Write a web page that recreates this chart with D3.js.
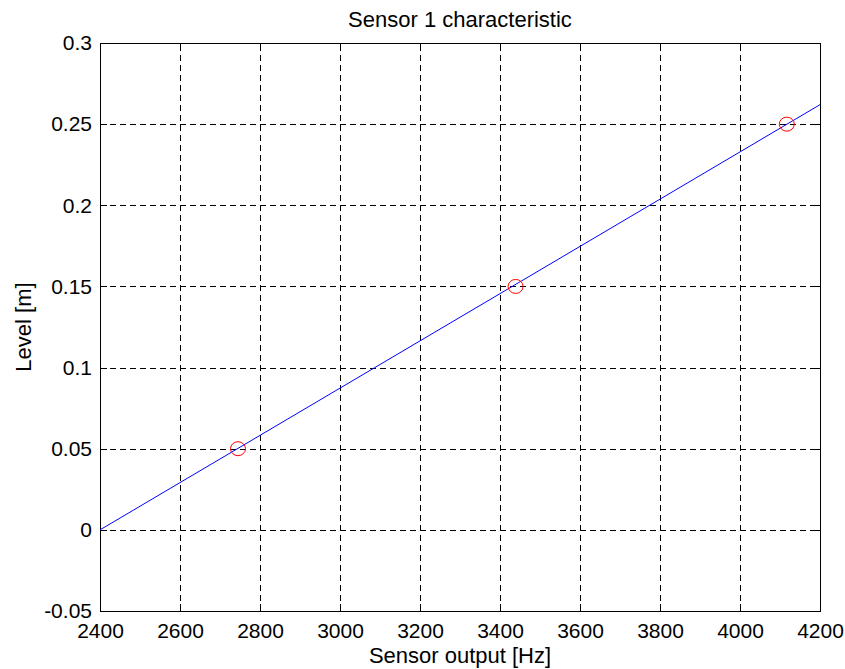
<!DOCTYPE html>
<html>
<head>
<meta charset="utf-8">
<title>Sensor 1 characteristic</title>
<style>
body { margin: 0; background: white; }
svg { display: block; font-family: "Liberation Sans", Arial, sans-serif; }
.grid line { stroke: #000; stroke-width: 1; stroke-dasharray: 6, 4; shape-rendering: crispEdges; }
.grid .domain { display: none; }
.axis .domain { stroke: #000; stroke-width: 1; shape-rendering: crispEdges; }
.axis .tick line { stroke: #000; shape-rendering: crispEdges; }
.axis .tick text { fill: #000; font-size: 21px; }
.fitline { fill: none; stroke: #0000ff; stroke-width: 1; }
.marker { fill: none; stroke: #ff0000; stroke-width: 1; }
</style>
</head>
<body>
<svg id="chart"></svg>
<script src="https://cdn.jsdelivr.net/npm/d3@7"></script>
<script>

// calibration points (frequency in Hz, level in m)
var pointHz = [2745, 3439, 4117];
var pointLevel = [0.05, 0.15, 0.25];

// fitted characteristic, drawn across the whole x range
var lineHz = [2400, 4200];
var lineLevel = [0.0, 0.262];

var xTicks = [2400, 2600, 2800, 3000, 3200, 3400, 3600, 3800, 4000, 4200];
var yTicks = [-0.05, 0, 0.05, 0.1, 0.15, 0.2, 0.25, 0.3];

var W = 845, H = 669;
var margin = {top: 43, right: 25, bottom: 58, left: 100};
var width = W - margin.left - margin.right;
var height = H - margin.top - margin.bottom;

var svg = d3.select("#chart").attr("width", W).attr("height", H);
var g = svg.append("g")
    .attr("transform", "translate(" + margin.left + "," + margin.top + ")");

var x = d3.scaleLinear().domain([2400, 4200]).range([0, width]);
var y = d3.scaleLinear().domain([-0.05, 0.3]).range([height, 0]);

// plain hyphen for the minus sign, like the original
var fmtY = function(d) { return d === 0 ? "0" : String(+d.toFixed(2)); };

// grid
g.append("g")
    .attr("class", "grid")
    .attr("transform", "translate(0," + height + ")")
    .call(d3.axisBottom(x).tickValues(xTicks.slice(1, -1)).tickSize(-height).tickFormat(""));
g.append("g")
    .attr("class", "grid")
    .call(d3.axisLeft(y).tickValues(yTicks.slice(1, -1)).tickSize(-width).tickFormat(""));

// axes, ticks inside like matlab
g.append("g")
    .attr("class", "axis")
    .attr("transform", "translate(0," + height + ")")
    .call(d3.axisBottom(x).tickValues(xTicks).tickSizeInner(-7).tickSizeOuter(0).tickPadding(12).tickFormat(d3.format("d")));
g.append("g")
    .attr("class", "axis")
    .call(d3.axisTop(x).tickValues(xTicks).tickSizeInner(-7).tickSizeOuter(0).tickFormat(""));
g.append("g")
    .attr("class", "axis")
    .call(d3.axisLeft(y).tickValues(yTicks).tickSizeInner(-7).tickSizeOuter(0).tickPadding(8).tickFormat(fmtY));
g.append("g")
    .attr("class", "axis")
    .attr("transform", "translate(" + width + ",0)")
    .call(d3.axisRight(y).tickValues(yTicks).tickSizeInner(-7).tickSizeOuter(0).tickFormat(""));

// fitted line
var lineData = lineHz.map(function(h, i) { return {hz: h, level: lineLevel[i]}; });
g.append("path")
    .datum(lineData)
    .attr("class", "fitline")
    .attr("d", d3.line().x(function(d) { return x(d.hz); }).y(function(d) { return y(d.level); }));

// measured points
var pts = pointHz.map(function(h, i) { return {hz: h, level: pointLevel[i]}; });
g.selectAll(".marker")
    .data(pts)
  .enter().append("ellipse")
    .attr("class", "marker")
    .attr("cx", function(d) { return x(d.hz); })
    .attr("cy", function(d) { return y(d.level); })
    .attr("rx", 7.5)
    .attr("ry", 7);

// labels
svg.append("text")
    .attr("x", margin.left + width / 2)
    .attr("y", 27)
    .attr("text-anchor", "middle")
    .style("font-size", "22px")
    .text("Sensor 1 characteristic");
svg.append("text")
    .attr("x", margin.left + width / 2)
    .attr("y", 663)
    .attr("text-anchor", "middle")
    .style("font-size", "22px")
    .text("Sensor output [Hz]");
svg.append("text")
    .attr("transform", "translate(31," + (margin.top + height / 2) + ") rotate(-90)")
    .attr("text-anchor", "middle")
    .style("font-size", "22px")
    .text("Level [m]");

</script>
</body>
</html>
